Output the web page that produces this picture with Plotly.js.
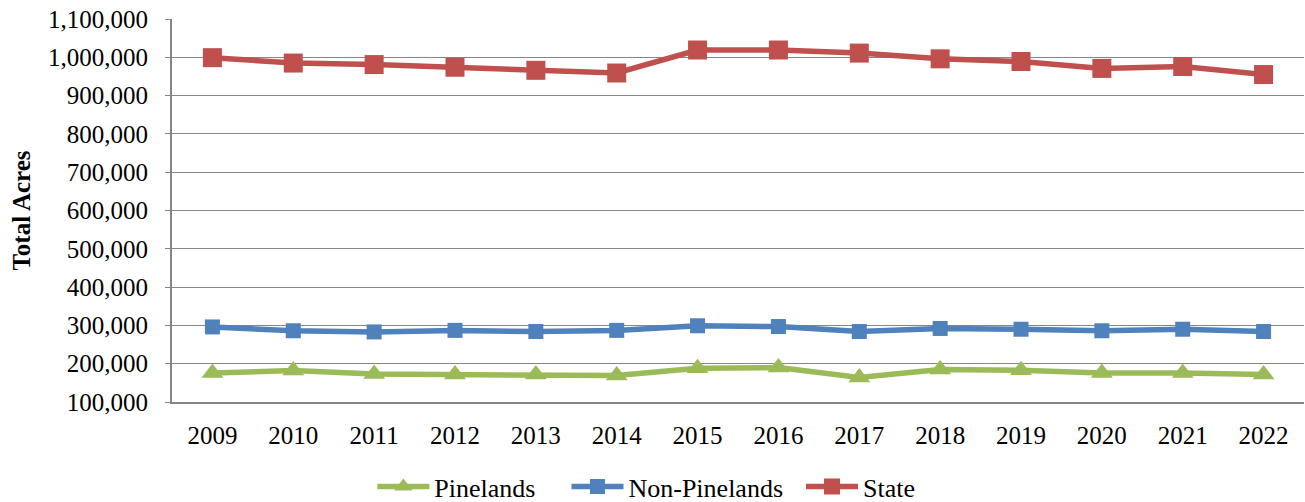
<!DOCTYPE html>
<html>
<head>
<meta charset="utf-8">
<script src="https://cdn.plot.ly/plotly-3.0.1.min.js"></script>
<style>html,body{margin:0;padding:0;background:#fff;}#chart{width:1305px;height:502px;}</style>
</head>
<body>
<div id="chart"></div>
<script>
const years = ["2009","2010","2011","2012","2013","2014","2015","2016","2017","2018","2019","2020","2021","2022"];
const pinelands = [176000,182000,173000,172000,172000,169000,188000,190000,164000,185000,183000,176000,176000,172000];
const nonPinelands = [296000,286000,283000,287000,284000,287000,299000,297000,284000,292000,290000,286000,290000,284000];
const state = [999000,985000,981000,974000,966000,959000,1019000,1019000,1011000,996000,989000,971000,976000,955000];
const seriesNames = ['Pinelands', 'Non-Pinelands', 'State'];
const yTickVals = [100000,200000,300000,400000,500000,600000,700000,800000,900000,1000000,1100000];

const FAM = 'Liberation Serif, Times New Roman, serif';
function f(size, bold) { return {family: FAM, size: size, color: '#000', weight: bold ? 'bold' : 'normal'}; }

const traces = [
  {x: years, y: pinelands, name: seriesNames[0] + '\u00A0\u00A0\u00A0\u00A0', type: 'scatter', mode: 'lines+markers',
   line: {color: '#9BBB59', width: 5.5}, marker: {symbol: 'triangle-up', size: 19, color: '#9BBB59'}},
  {x: years, y: nonPinelands, name: seriesNames[1] + '\u00A0\u00A0', type: 'scatter', mode: 'lines+markers',
   line: {color: '#4F81BD', width: 5.5}, marker: {symbol: 'square', size: 15, color: '#4F81BD'}},
  {x: years, y: state, name: seriesNames[2], type: 'scatter', mode: 'lines+markers',
   line: {color: '#C0504D', width: 5.5}, marker: {symbol: 'square', size: 19, color: '#C0504D'}}
];

const layout = {
  width: 1305, height: 502,
  margin: {l: 172, r: 1, t: 19, b: 100, autoexpand: false},
  paper_bgcolor: '#fff', plot_bgcolor: '#fff',
  font: f(24),
  showlegend: true,
  legend: {orientation: 'h', x: 0.177, xanchor: 'left', y: -0.221, yanchor: 'middle',
           font: f(26), itemwidth: 52},
  xaxis: {type: 'category', range: [-0.5, 13.5], showgrid: false, showline: true,
          linecolor: '#868686', linewidth: 2, ticks: '', tickfont: f(25), ticklabelstandoff: 10},
  yaxis: {range: [100000, 1100000], tickvals: yTickVals, tickformat: ',', showgrid: true,
          gridcolor: '#868686', gridwidth: 1, showline: true, linecolor: '#868686', linewidth: 2,
          ticks: 'outside', ticklen: 5, tickcolor: '#868686', tickfont: f(25), zeroline: false,
          ticklabelstandoff: 12,
          title: {text: 'Total Acres', font: f(25, true), standoff: 10}}
};

Plotly.newPlot('chart', traces, layout, {displayModeBar: false, staticPlot: true});
</script>
</body>
</html>
